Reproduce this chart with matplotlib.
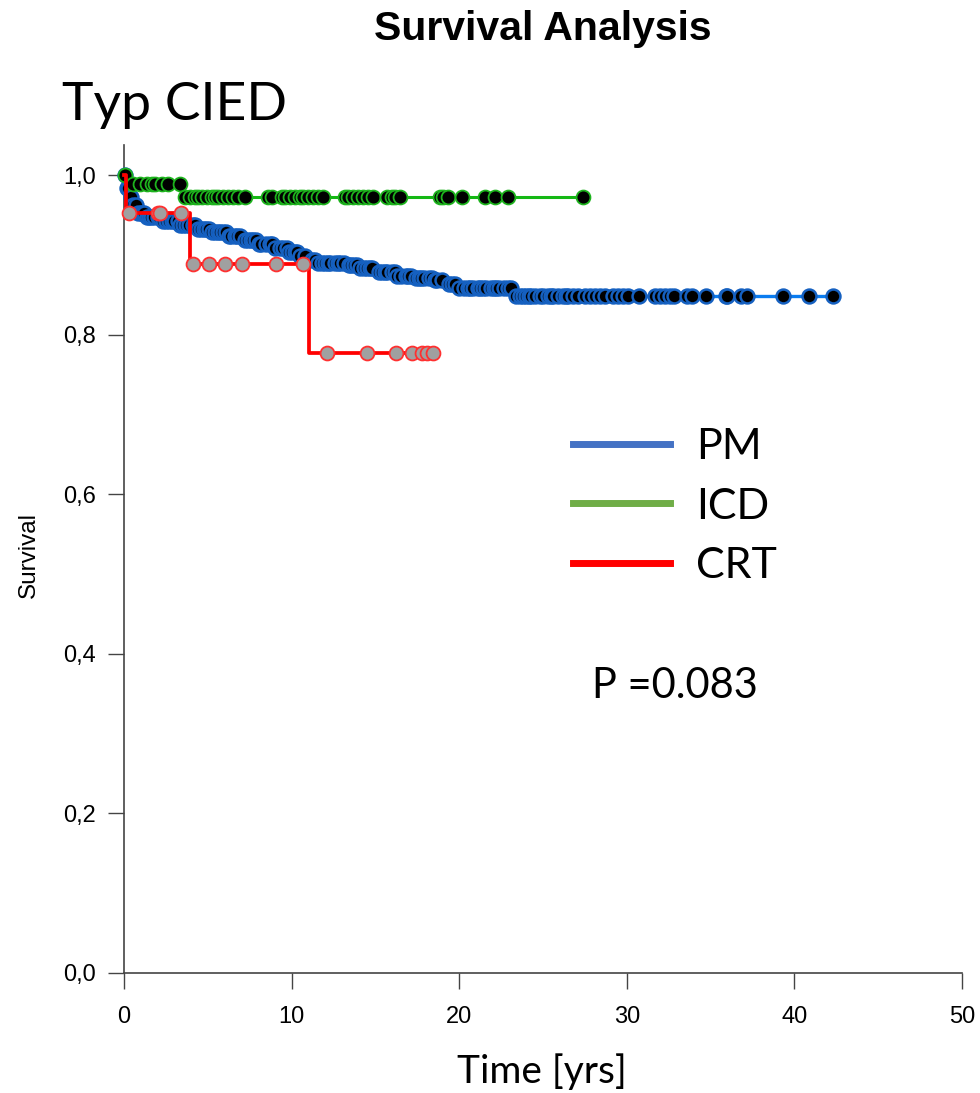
import numpy as np
import matplotlib.pyplot as plt
from matplotlib.lines import Line2D

plt.rcParams['font.family'] = ['Liberation Sans', 'DejaVu Sans']
CAL = ['Lato', 'DejaVu Sans']

# Kaplan-Meier steps (event time, survival after the event)
pm_event_t = [0.15, 0.30, 0.45, 0.8, 1.3, 2.2, 3.3, 4.3, 5.2, 6.2, 7.0, 8.0, 8.9,
              9.8, 10.4, 11.0, 11.6, 13.3, 14.1, 15.0, 16.2, 17.3, 18.5, 19.2,
              19.8, 23.2]
pm_event_s = [0.984, 0.972, 0.962, 0.953, 0.947, 0.942, 0.937, 0.932, 0.928,
              0.923, 0.919, 0.913, 0.909, 0.904, 0.899, 0.893, 0.890, 0.887,
              0.883, 0.878, 0.874, 0.871, 0.869, 0.864, 0.858, 0.848]
pm_censor = [0.05, 0.15, 0.25, 0.4, 0.55, 0.7, 0.85, 1.0, 1.1, 1.2, 1.4, 1.5, 1.6,
             1.8, 2.0, 2.1, 2.3, 2.5, 2.7, 2.85, 3.0, 3.2, 3.35, 3.5, 3.7, 3.9,
             4.1, 4.25, 4.4, 4.6, 4.75, 4.9, 5.1, 5.25, 5.4, 5.6, 5.75, 5.9, 6.1,
             6.25, 6.4, 6.6, 6.75, 6.9, 7.2, 7.4, 7.55, 7.7, 7.9, 8.05, 8.2, 8.5,
             8.7, 8.85, 9.0, 9.3, 9.5, 9.7, 9.85, 10.0, 10.2, 10.35, 10.5, 10.8,
             11.2, 11.4, 11.6, 11.8, 12.0, 12.15, 12.3, 12.6, 12.75, 12.9, 13.1,
             13.4, 13.55, 13.7, 13.9, 14.1, 14.3, 14.5, 14.65, 14.8, 15.2, 15.4,
             15.55, 15.7, 16.0, 16.15, 16.3, 16.5, 16.8, 16.95, 17.1, 17.4, 17.6,
             17.75, 17.9, 18.2, 18.4, 18.55, 18.7, 19.0, 19.4, 19.6, 19.75, 20.0,
             20.3, 20.5, 20.65, 20.8, 21.1, 21.25, 21.4, 21.6, 21.9, 22.05, 22.2,
             22.4, 22.7, 22.9, 23.1, 23.4, 23.6, 23.8, 24.0, 24.15, 24.3, 24.5,
             24.8, 25.0, 25.3, 25.45, 25.6, 25.9, 26.2, 26.35, 26.5, 26.8, 27.1,
             27.5, 27.8, 28.1, 28.4, 28.7, 29.2, 29.5, 29.8, 30.1, 30.7, 31.7,
             32.0, 32.3, 32.6, 32.8, 33.6, 33.9, 34.7, 35.9, 36.0, 36.8, 37.2,
             39.3, 40.9, 42.3]

icd_event_t = [0.2, 3.5]
icd_event_s = [0.989, 0.972]
icd_censor = [0.06, 0.54, 0.95, 1.37, 1.67, 1.85, 2.27, 2.63, 3.34, 3.64, 3.94,
              4.24, 4.42, 4.65, 4.95, 5.25, 5.43, 5.61, 5.91, 6.21, 6.50, 6.80,
              7.22, 8.59, 8.83, 9.43, 9.61, 9.90, 10.20, 10.50, 10.68, 10.98,
              11.28, 11.58, 11.87, 13.19, 13.37, 13.66, 13.96, 14.26, 14.56,
              14.86, 15.69, 15.99, 16.17, 16.47, 18.85, 19.03, 19.33, 20.17,
              21.54, 22.14, 22.91, 27.39]

crt_event_t = [0.1, 3.94, 11.04]
crt_event_s = [0.952, 0.888, 0.777]
crt_censor = [0.30, 2.03, 2.15, 3.40, 4.12, 5.07, 6.03, 7.04, 9.07, 10.68, 12.11,
              14.50, 16.23, 17.18, 17.78, 18.08, 18.44]

groups = ['PM', 'ICD', 'CRT']
legend_colors = ['#4472C4', '#70AD47', '#FF0000']
y_ticks = [0.0, 0.2, 0.4, 0.6, 0.8, 1.0]
x_ticks = [0, 10, 20, 30, 40, 50]


def km_curve(ax, ev_t, ev_s, cens, line_c, face_c, edge_c, z, lw=2.2, mew=1.3):
    end = max(cens[-1], ev_t[-1])
    t = np.array([0.0] + ev_t + [end])
    s = np.array([1.0] + ev_s + [ev_s[-1]])
    ax.step(t, s, where='post', color=line_c, lw=lw, zorder=z, clip_on=False)
    idx = np.searchsorted(t, cens, side='right') - 1
    ax.plot(cens, s[idx], 'o', ms=10, mfc=face_c, mec=edge_c, mew=mew,
            zorder=z + 1, clip_on=False, ls='none')


fig = plt.figure(figsize=(9.8, 10.93), dpi=100)
ax = fig.add_axes([0.12653, 0.10979, 0.8551, 0.75755])

km_curve(ax, pm_event_t, pm_event_s, pm_censor, '#0A7CF0', 'black', '#1560C0', 2,
         lw=2.4, mew=1.8)
km_curve(ax, icd_event_t, icd_event_s, icd_censor, '#14B814', 'black', '#1DB31D', 4)
km_curve(ax, crt_event_t, crt_event_s, crt_censor, '#FF0000', '#A0A0A0', '#FF3030', 6,
         lw=2.7)

ax.set_xlim(0, 50)
ax.set_ylim(0, 1.0376)
ax.set_xticks(x_ticks)
ax.set_yticks(y_ticks)
ax.set_yticklabels([f'{v:.1f}'.replace('.', ',') for v in y_ticks])
for sp in ['top', 'right']:
    ax.spines[sp].set_visible(False)
for sp in ['left', 'bottom']:
    ax.spines[sp].set_color('#444444')
    ax.spines[sp].set_linewidth(1.2)
ax.tick_params(direction='out', length=11.5, width=1.0, color='#444444',
               labelsize=17, pad=9)
ax.tick_params(axis='x', pad=12)

handles = [Line2D([], [], color=c, lw=5) for c in legend_colors]
ax.legend(handles, groups, loc='upper left', frameon=False,
          bbox_to_anchor=(573 / 980, 1 - 428 / 1093), bbox_transform=fig.transFigure,
          prop={'family': CAL, 'size': 31}, handlelength=2.25, handletextpad=0.6,
          labelspacing=0.5, borderpad=0, borderaxespad=0)

fig.text(543 / 980, 1 - 40 / 1093, 'Survival Analysis', ha='center', va='baseline',
         fontsize=29.5, fontweight='bold')
fig.text(62 / 980, 1 - 120 / 1093, 'Typ CIED', ha='left', va='baseline',
         fontsize=38.5, family=CAL)
fig.text(592 / 980, 1 - 698 / 1093, 'P =0.083', ha='left', va='baseline',
         fontsize=30, family=CAL)
fig.text(542 / 980, 1 - 1083 / 1093, 'Time [yrs]', ha='center', va='baseline',
         fontsize=28, family=CAL)
fig.text(29 / 980, 1 - 555 / 1093, 'Survival', ha='center', va='center',
         rotation=90, fontsize=17.5)

fig.savefig('out.png', dpi=100)
